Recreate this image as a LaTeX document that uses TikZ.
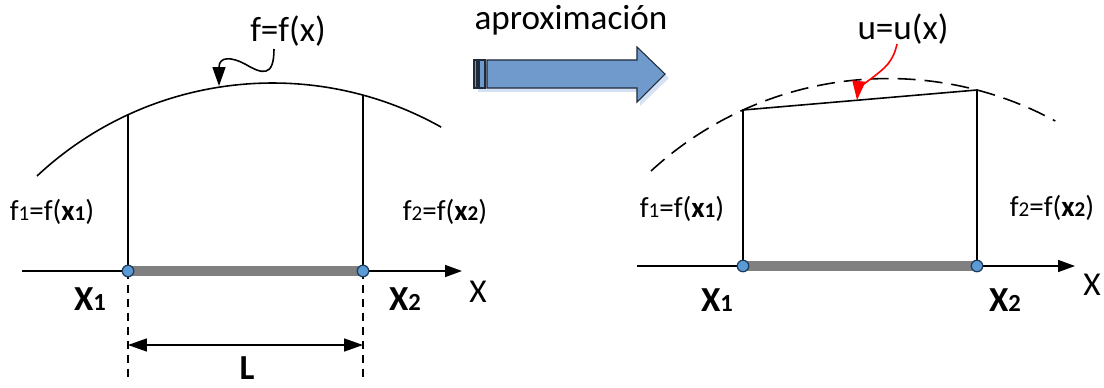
\documentclass[tikz,border=0pt]{standalone}
\usepackage{fontspec}
\setmainfont{Carlito}
\usepackage{xcolor}
\usetikzlibrary{arrows.meta}
\definecolor{ptblue}{HTML}{5B9BD5}
\definecolor{ptedge}{HTML}{1F3A5A}
\definecolor{bargray}{HTML}{808080}
\definecolor{blockfill}{HTML}{7099CC}
\definecolor{blockedge}{HTML}{1F2A3A}
\definecolor{blockshade}{HTML}{D3E1F3}
\newcommand{\sdig}[1]{{\fontsize{12}{12}\selectfont #1}}
\newcommand{\bdig}[1]{{\fontsize{14}{14}\selectfont #1}}

\begin{document}
\begin{tikzpicture}[x=0.02cm, y=-0.02cm,
  thinl/.style={line width=0.9pt},
  axis/.style={thinl, -{Triangle[length=0.34cm,width=0.24cm]}},
  bar/.style={line width=0.2cm, draw=bargray},
  pt/.style={circle, draw=ptedge, fill=ptblue, minimum size=0.23cm, inner sep=0pt, line width=0.7pt},
  guide/.style={thinl, dash pattern=on 0.16cm off 0.12cm},
  approx/.style={thinl, dash pattern=on 0.36cm off 0.18cm},
  dimarr/.style={thinl, {Triangle[length=0.38cm,width=0.26cm]}-{Triangle[length=0.38cm,width=0.26cm]}},
  callout/.style={thinl, -{Triangle[length=0.38cm,width=0.26cm]}},
  lbl/.style={font=\fontsize{16.5}{18}\selectfont, inner sep=0pt},
  xlbl/.style={font=\fontsize{20}{22}\selectfont\bfseries, inner sep=0pt},
  axlbl/.style={font=\fontsize{19}{21}\selectfont, inner sep=0pt},
  big/.style={font=\fontsize{20}{24}\selectfont, inner sep=0pt}
]
  \useasboundingbox (0,0) rectangle (1104,388);

  % left: exact function
  \coordinate (a1) at (128,271);
  \coordinate (a2) at (363,271);
  \coordinate (t1) at (128,115);
  \coordinate (t2) at (363,95);
  \coordinate (ax0) at (22,271);
  \coordinate (ax1) at (462,271);
  \coordinate (e1) at (128,382);
  \coordinate (e2) at (363,382);
  \coordinate (d1) at (128,345);
  \coordinate (d2) at (363,345);
  \coordinate (ffc) at (274,49);
  \coordinate (ftip) at (219,86);

  \draw[thinl] (37,176) arc[start angle=133.1, end angle=60.7, radius=6.894cm];
  \draw[thinl] (a1) -- (t1);
  \draw[thinl] (a2) -- (t2);
  \draw[axis] (ax0) -- (ax1);
  \draw[bar] (a1) -- (a2);
  \draw[guide] (a1) -- (e1);
  \draw[guide] (a2) -- (e2);
  \draw[dimarr] (d1) -- (d2);
  \draw[callout] (ffc) .. controls (274,78) and (262,74) .. (245,64) .. controls (232,57) and (219,56) .. (ftip);
  \node[pt] (p1) at (a1) {};
  \node[pt] (p2) at (a2) {};

  \node[big] (ff) at (288,31) {f=f(x)};
  \node[lbl] (f1l) at (52,212) {f\sdig{1}=f(\textbf{x}\sdig{\textbf{1}})};
  \node[lbl] (f2l) at (445,212) {f\sdig{2}=f(\textbf{x}\sdig{\textbf{2}})};
  \node[xlbl] (x1l) at (90,299) {X\bdig{1}};
  \node[xlbl] (x2l) at (405,299) {X\bdig{2}};
  \node[axlbl] (xl) at (478,292) {X};
  \node[xlbl] (len) at (247,368) {L};

  % middle: block arrow
  \fill[blockshade] (490,64) -- (640,64) -- (640,51) -- (669,78) -- (640,106) -- (640,92) -- (478,92) -- (478,64) -- cycle;
  \filldraw[fill=blockfill, draw=blockedge, line width=0.6pt] (487,60) -- (637,60) -- (637,47) -- (665,74) -- (637,102) -- (637,88) -- (487,88) -- cycle;
  \filldraw[fill=blockfill, draw=blockedge, line width=0.6pt] (474,60) rectangle (477,88);
  \filldraw[fill=blockfill, draw=blockedge, line width=0.6pt] (479,60) rectangle (485,88);
  \node[big] (aprox) at (571,20) {aproximación};

  % right: linear approximation
  \coordinate (b1) at (743,266);
  \coordinate (b2) at (977,266);
  \coordinate (s1) at (743,110);
  \coordinate (s2) at (977,90);
  \coordinate (bx0) at (637,266);
  \coordinate (bx1) at (1075,266);
  \coordinate (uuc) at (897,44);
  \coordinate (utip) at (857,100);

  \draw[approx] (651,171) arc[start angle=132.6, end angle=61.5, radius=7.008cm];
  \draw[thinl] (b1) -- (s1) -- (s2) -- (b2);
  \draw[axis] (bx0) -- (bx1);
  \draw[bar] (b1) -- (b2);
  \draw[callout, red] (uuc) .. controls (893,62) and (885,68) .. (872,78) .. controls (862,85) and (858,90) .. (utip);
  \node[pt] (q1) at (b1) {};
  \node[pt] (q2) at (b2) {};

  \node[big] (uu) at (903,29) {u=u(x)};
  \node[lbl] (f1r) at (682,209) {f\sdig{1}=f(\textbf{x}\sdig{\textbf{1}})};
  \node[lbl] (f2r) at (1052,208) {f\sdig{2}=f(\textbf{x}\sdig{\textbf{2}})};
  \node[xlbl] (x1r) at (717,300) {X\bdig{1}};
  \node[xlbl] (x2r) at (1005,300) {X\bdig{2}};
  \node[axlbl] (xr) at (1092,285) {X};
\end{tikzpicture}
\end{document}
